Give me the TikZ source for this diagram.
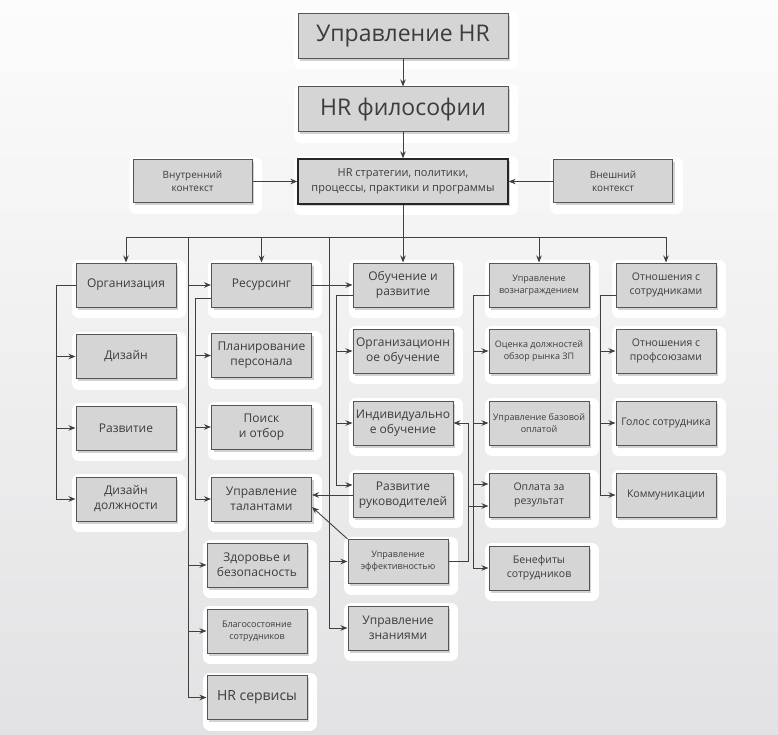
\documentclass[tikz,border=0pt]{standalone}
\usepackage{fontspec}
\setmainfont{Open Sans}
\usepackage{tikz}
\usetikzlibrary{positioning}
\usetikzlibrary{arrows.meta, shadows}
\definecolor{boxfill}{HTML}{D5D5D5}
\definecolor{boxline}{HTML}{555555}
\definecolor{linecol}{HTML}{404040}
\definecolor{textcol}{HTML}{3C3C3C}
\definecolor{bgtop}{HTML}{FCFCFC}
\definecolor{bgbottom}{HTML}{E2E2E4}
\tikzstyle{hrbox} = [rectangle, minimum width=100pt, minimum height=44pt, inner sep=1pt, align=center, draw=boxline, line width=1pt, fill=boxfill, text=textcol, preaction={draw=white, fill=white, line width=14pt, line join=round, transform canvas={shift={(3pt,-4pt)}}}, drop shadow={opacity=0.35, shadow xshift=2pt, shadow yshift=-2.5pt}]
\tikzstyle{titlebox} = [hrbox, minimum width=210pt, minimum height=45pt, font=\fontsize{23}{27}\selectfont]
\tikzstyle{context} = [hrbox, minimum width=119pt, minimum height=43pt, font=\fontsize{10}{13}\selectfont]
\tikzstyle{strategy} = [titlebox, draw=black!85, line width=1.3pt, font=\fontsize{11}{15}\selectfont]
\tikzstyle{area} = [hrbox, font=\fontsize{12}{15}\selectfont]
\tikzstyle{smallarea} = [hrbox, font=\fontsize{10.5}{14}\selectfont]
\tikzstyle{tinyarea} = [hrbox, font=\fontsize{9}{12}\selectfont]
\tikzstyle{arrow} = [line width=0.9pt, -{Stealth[length=7pt, width=5.5pt]}, draw=linecol]
\tikzstyle{link} = [line width=0.9pt, draw=linecol]

\begin{document}
\begin{tikzpicture}[x=1pt, y=-1pt, node distance=72pt]
        \fill [top color=bgtop, bottom color=bgbottom] (0,0) rectangle (778,735);
        \useasboundingbox (0,0) rectangle (778,735);
        \node (hr) [titlebox] at (403,36) {Управление HR};
        \node (phil) [titlebox, below of=hr, yshift=-1.5pt] {HR философии};
        \node (strat) [strategy, below of=phil] {HR стратегии, политики,\\процессы, практики и программы};
        \node (inner) [context, left of=strat, xshift=-138.5pt] {Внутренний\\контекст};
        \node (outer) [context, right of=strat, xshift=138pt] {Внешний\\контекст};
        \node (org) [area] at (126,285) {Организация};
        \node (design) [area, below of=org, yshift=0.5pt] {Дизайн};
        \node (devel) [area, below of=design, yshift=0.5pt] {Развитие};
        \node (jobdes) [area, below of=devel, yshift=1pt] {Дизайн\\должности};
        \node (res) [area] at (261.5,285) {Ресурсинг};
        \node (plan) [area, below of=res, yshift=1.5pt] {Планирование\\персонала};
        \node (search) [area, below of=plan, yshift=0.5pt] {Поиск\\и отбор};
        \node (talent) [area, below of=search] {Управление\\талантами};
        \node (health) [area, below of=talent, xshift=-4.5pt, yshift=6pt] {Здоровье и\\безопасность};
        \node (welfare) [tinyarea, below of=health, yshift=6pt] {Благосостояние\\сотрудников};
        \node (services) [area, below of=welfare, yshift=5.5pt, font=\fontsize{14}{17}\selectfont] {HR сервисы};
        \node (learn) [area] at (403,285) {Обучение и\\развитие};
        \node (orgl) [area, below of=learn, yshift=6pt] {Организационн\\ое обучение};
        \node (indl) [area, below of=orgl] {Индивидуально\\е обучение};
        \node (lead) [area, below of=indl] {Развитие\\руководителей};
        \node (perf) [tinyarea, below of=lead, xshift=-5pt, yshift=5.5pt] {Управление\\эффективностью};
        \node (know) [area, below of=perf, yshift=5.5pt] {Управление\\знаниями};
        \node (reward) [tinyarea] at (539,285) {Управление\\вознаграждением};
        \node (jobev) [tinyarea, below of=reward, yshift=6pt] {Оценка должностей\\обзор рынка ЗП};
        \node (basepay) [tinyarea, below of=jobev] {Управление базовой\\оплатой};
        \node (perfpay) [smallarea, below of=basepay] {Оплата за\\результат};
        \node (benef) [smallarea, below of=perfpay, yshift=-1pt] {Бенефиты\\сотрудников};
        \node (rel) [smallarea] at (666,285) {Отношения с\\сотрудниками};
        \node (union) [smallarea, below of=rel, yshift=6pt] {Отношения с\\профсоюзами};
        \node (voice) [smallarea, below of=union] {Голос сотрудника};
        \node (comm) [smallarea, below of=voice] {Коммуникации};
        \coordinate (bus) at (403,237);
        \coordinate (busleft) at (188,237);
        \coordinate (busmid) at (329,237);
        \draw [arrow] (hr) -- (phil);
        \draw [arrow] (phil) -- (strat);
        \draw [arrow] (inner) -- (strat);
        \draw [arrow] (outer) -- (strat);
        \draw [arrow] (strat) -- (learn);
        \draw [link] (bus -| org) -- (bus -| rel);
        \draw [arrow] (bus -| org) -- (org);
        \draw [arrow] (bus -| res) -- (res);
        \draw [arrow] (bus -| reward) -- (reward);
        \draw [arrow] (bus -| rel) -- (rel);
        \draw [arrow] (busleft) |- (services);
        \draw [arrow] (busleft |- res) -- (res);
        \draw [arrow] (busleft |- health) -- (health);
        \draw [arrow] (busleft |- welfare) -- (welfare);
        \draw [arrow] (busmid) |- (know);
        \draw [arrow] (busmid |- perf) -- (perf);
        \draw [arrow] (res) -- (learn);
        \draw [link] (org.west) -- ++(-19,0) coordinate (orgtrunk);
        \draw [arrow] (orgtrunk) |- (jobdes);
        \draw [arrow] (orgtrunk |- design) -- (design);
        \draw [arrow] (orgtrunk |- devel) -- (devel);
        \draw [link] ([yshift=-13pt]res.west) -- ++(-16,0) coordinate (restrunk);
        \draw [arrow] (restrunk) |- (talent);
        \draw [arrow] (restrunk |- plan) -- (plan);
        \draw [arrow] (restrunk |- search) -- (search);
        \draw [link] ([yshift=-10pt]learn.west) -- ++(-16,0) coordinate (learntrunk);
        \draw [arrow] (learntrunk) |- ([yshift=10pt]lead.west);
        \draw [arrow] (learntrunk |- orgl) -- (orgl);
        \draw [arrow] (learntrunk |- indl) -- (indl);
        \draw [arrow] (lead.west) -- (lead.west -| talent.east);
        \draw [arrow] (perf.north west) -- ([yshift=-8pt]talent.east);
        \draw [link] (perf.east) -- ++(20,0) coordinate (perftrunk);
        \draw [arrow] (perftrunk) |- (indl);
        \draw [arrow] ([yshift=-11pt]perfpay.west -| perftrunk) -- ([yshift=-11pt]perfpay.west);
        \draw [link] ([yshift=-10pt]reward.west) -- ++(-15,0) coordinate (rewardtrunk);
        \draw [arrow] (rewardtrunk) |- (benef);
        \draw [arrow] (rewardtrunk |- jobev) -- (jobev);
        \draw [arrow] (rewardtrunk |- basepay) -- (basepay);
        \draw [arrow] ([yshift=11pt]perfpay.west -| rewardtrunk) -- ([yshift=11pt]perfpay.west);
        \draw [link] ([yshift=-10pt]rel.west) -- ++(-15,0) coordinate (reltrunk);
        \draw [arrow] (reltrunk) |- (comm);
        \draw [arrow] (reltrunk |- union) -- (union);
        \draw [arrow] (reltrunk |- voice) -- (voice);

    \end{tikzpicture}
\end{document}
